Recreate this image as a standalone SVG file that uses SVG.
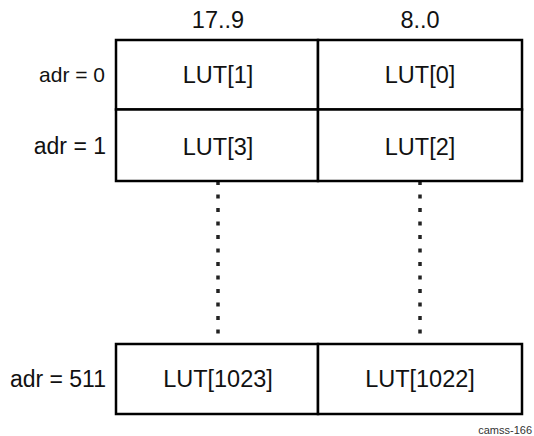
<svg xmlns="http://www.w3.org/2000/svg" width="534" height="436" viewBox="0 0 534 436">
<style>
.cell{fill:#fff;stroke:#000;stroke-width:2.5}
.t{font-family:"Liberation Sans",Arial,sans-serif;font-size:23.5px;fill:#111;text-anchor:middle}
.lbl{font-family:"Liberation Sans",Arial,sans-serif;font-size:23px;fill:#111;text-anchor:end}
.dot{stroke:#222;stroke-width:3.5;stroke-dasharray:4 9.5;fill:none}
.cap{font-family:"Liberation Sans",Arial,sans-serif;font-size:11px;fill:#333;text-anchor:end}
</style>
<g id="headers">
<text class="t" x="218" y="28">17..9</text>
<text class="t" x="420" y="28">8..0</text>
</g>
<g id="row-labels">
<text class="lbl" x="105" y="82" style="font-size:21px">adr = 0</text>
<text class="lbl" x="106" y="154">adr = 1</text>
<text class="lbl" x="106" y="387">adr = 511</text>
</g>
<g id="connectors">
<line class="dot" x1="218" y1="181" x2="218" y2="346"/>
<line class="dot" x1="420" y1="181" x2="420" y2="346"/>
</g>
<g id="lut1"><rect class="cell" x="116" y="40" width="202" height="69.5"/><text class="t" x="218" y="83">LUT[1]</text></g>
<g id="lut0"><rect class="cell" x="318" y="40" width="204" height="69.5"/><text class="t" x="420" y="83">LUT[0]</text></g>
<g id="lut3"><rect class="cell" x="116" y="109.5" width="202" height="71.5"/><text class="t" x="218" y="155">LUT[3]</text></g>
<g id="lut2"><rect class="cell" x="318" y="109.5" width="204" height="71.5"/><text class="t" x="420" y="155">LUT[2]</text></g>
<g id="lut1023"><rect class="cell" x="116" y="344" width="202" height="70"/><text class="t" x="218" y="387">LUT[1023]</text></g>
<g id="lut1022"><rect class="cell" x="318" y="344" width="204" height="70"/><text class="t" x="420" y="387">LUT[1022]</text></g>
<text class="cap" x="532" y="434">camss-166</text>
</svg>
